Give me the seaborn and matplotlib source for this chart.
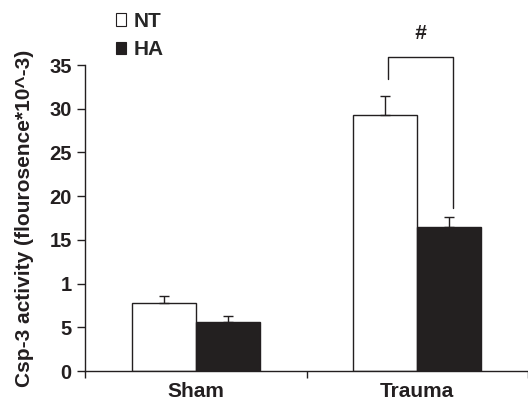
import numpy as np
import pandas as pd
import matplotlib
matplotlib.use("Agg")
import matplotlib.pyplot as plt
from matplotlib.patches import Patch
import seaborn as sns

sns.set_style("ticks")
plt.rcParams["font.family"] = ["Liberation Sans", "DejaVu Sans"]
plt.rcParams["font.weight"] = "bold"

# ---------------- DATA ----------------
groups = ["Sham", "Trauma"]
treatments = ["NT", "HA"]
nt_means = [7.8, 29.3]
ha_means = [5.6, 16.5]
nt_err = [0.8, 2.2]
ha_err = [0.7, 1.1]
ytick_vals = [0, 5, 10, 15, 20, 25, 30, 35]
ytick_labels = ["0", "5", "1", "15", "20", "25", "30", "35"]
sig_label = "#"

df = pd.DataFrame({
    "group": groups * 2,
    "treatment": ["NT"] * 2 + ["HA"] * 2,
    "value": nt_means + ha_means,
    "err": nt_err + ha_err,
})

ink = "#231f20"
fig = plt.figure(figsize=(5.28, 4.03), dpi=100)
ax = fig.add_axes([0.161, 0.0794, 0.839, 0.7593])

sns.barplot(data=df, x="group", y="value", hue="treatment", order=groups,
            hue_order=treatments, palette={"NT": "white", "HA": ink},
            width=0.58, edgecolor=ink, linewidth=1.0, errorbar=None,
            legend=False, ax=ax)

# upper-only error bars at bar centres
centers = {}
for patch, (_, row) in zip(ax.patches, df.iterrows()):
    cx = patch.get_x() + patch.get_width() / 2
    top = patch.get_height()
    centers[(row["group"], row["treatment"])] = cx
    ax.errorbar(cx, top, yerr=[[0], [row["err"]]], fmt="none", ecolor=ink,
                elinewidth=1.0, capsize=3.6, capthick=1.0, zorder=1)

# significance bracket over Trauma
xl = centers[("Trauma", "NT")] + 0.015
xr = centers[("Trauma", "HA")] + 0.015
y_top = 35.9
ax.plot([xl, xl, xr, xr], [33.4, y_top, y_top, 18.6], color=ink, lw=1.0,
        clip_on=False)
ax.text((xl + xr) / 2, 38.6, sig_label, ha="center", va="center",
        fontsize=15, fontweight="bold", fontstyle="italic", color=ink)

ax.set_xlim(-0.5, 1.5)
ax.set_ylim(0, 35)
ax.set_yticks(ytick_vals)
ax.set_yticklabels(ytick_labels, fontsize=14.5, fontweight="bold", color=ink)
ax.set_xticks([0, 1])
ax.set_xticklabels(groups, fontsize=15, fontweight="bold", color=ink)
ax.set_xticks([-0.5, 0.5, 1.5], minor=True)
ax.tick_params(axis="x", which="major", length=0, pad=8)
ax.tick_params(axis="x", which="minor", length=5, width=1.0, color=ink,
               direction="out")
ax.tick_params(axis="y", length=6, width=1.0, color=ink, pad=3.5)
ax.set_xlabel("")
ax.set_ylabel("Csp-3 activity (flourosence*10^-3)", fontsize=15,
              fontweight="bold", color=ink, labelpad=11)

for side in ["top", "right"]:
    ax.spines[side].set_visible(False)
for side in ["left", "bottom"]:
    ax.spines[side].set_color(ink)
    ax.spines[side].set_linewidth(1.0)

handles = [Patch(facecolor="white", edgecolor=ink, linewidth=0.8, label="NT"),
           Patch(facecolor=ink, edgecolor=ink, linewidth=0.8, label="HA")]
fig.legend(handles=handles, loc="upper left", bbox_to_anchor=(0.219, 0.97),
           frameon=False, borderpad=0, borderaxespad=0,
           handlelength=0.52, handleheight=0.55, handletextpad=0.35,
           labelspacing=0.45, prop={"weight": "bold", "size": 15})

fig.savefig("out.png", dpi=100)
